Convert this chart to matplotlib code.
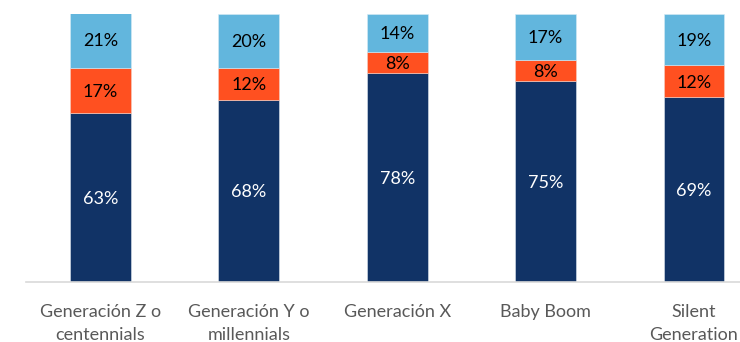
import matplotlib
matplotlib.use("Agg")
import matplotlib.pyplot as plt
import numpy as np

categories = ["Generación Z o\ncentennials", "Generación Y o\nmillennials",
              "Generación X", "Baby Boom", "Silent\nGeneration"]
bottom_vals = [63, 68, 78, 75, 69]
middle_vals = [17, 12, 8, 8, 12]
top_vals = [21, 20, 14, 17, 19]

navy = "#113366"
orange = "#FF5020"
sky = "#62B6DD"

plt.rcParams["font.family"] = ["Lato", "DejaVu Sans"]

fig = plt.figure(figsize=(7.4, 3.42), dpi=100)
ax = fig.add_axes([0.0356, 0.1754, 1.0024, 0.7836])

x = np.arange(len(categories))
w = 0.41
b1 = np.array(bottom_vals)
b2 = b1 + np.array(middle_vals)

ax.bar(x, bottom_vals, w, color=navy, edgecolor="#dfe6ee", linewidth=0.4)
ax.bar(x, middle_vals, w, bottom=b1, color=orange, edgecolor="#f3d0c4", linewidth=0.4)
ax.bar(x, top_vals, w, bottom=b2, color=sky, edgecolor="#d6ebf5", linewidth=0.4)

fs = 13
for i in range(len(categories)):
    ax.text(x[i], bottom_vals[i] / 2, f"{bottom_vals[i]}%", ha="center",
            va="center_baseline", color="white", fontsize=fs)
    ax.text(x[i], b1[i] + middle_vals[i] / 2, f"{middle_vals[i]}%", ha="center",
            va="center_baseline", color="black", fontsize=fs)
    ax.text(x[i], b2[i] + top_vals[i] / 2, f"{top_vals[i]}%", ha="center",
            va="center_baseline", color="black", fontsize=fs)

ax.set_xlim(-0.5, 4.5)
ax.set_ylim(0, 100)
ax.set_yticks([])
ax.set_xticks(x)
ax.set_xticklabels(categories, fontsize=13, color="#595959", linespacing=1.55)
ax.tick_params(axis="x", length=0, pad=16)
for s in ["top", "right", "left"]:
    ax.spines[s].set_visible(False)
ax.spines["bottom"].set_color("#d9d9d9")
ax.spines["bottom"].set_linewidth(1.2)

fig.savefig("out.png", dpi=100)
